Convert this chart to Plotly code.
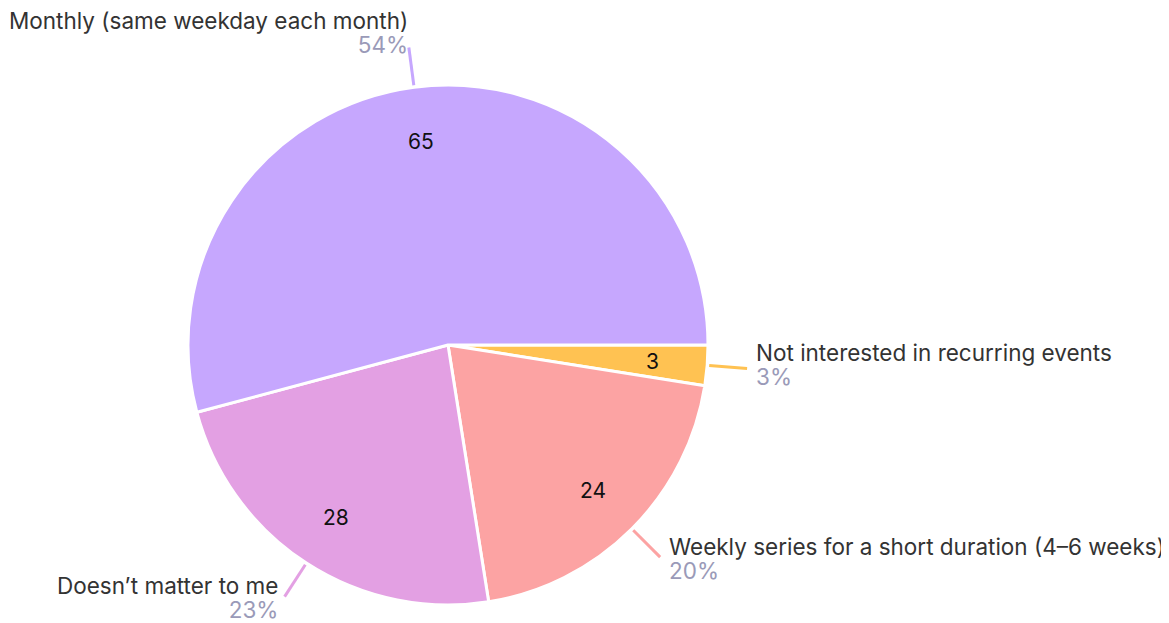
"""Pie chart of preferred recurring event schedules."""

import math
import plotly.graph_objects as go

W, H = 1169, 623

# listed clockwise, starting at 3 o'clock
labels = [
    'Not interested in recurring events',
    'Weekly series for a short duration (4–6 weeks)',
    'Doesn’t matter to me',
    'Monthly (same weekday each month)',
]
values = [3, 24, 28, 65]
percents = ['3%', '20%', '23%', '54%']
colors = ['#FFC252', '#FCA3A3', '#E3A0E3', '#C6A7FE']

FONT = 'Inter'
TEXT_COLOR = '#333333'
PCT_COLOR = '#9A9AB8'
LABEL_SIZE = 22.5

# pie geometry (px, figure coordinates; page adds an 8px body margin)
cx, cy, R = 440, 337, 260

fig = go.Figure(go.Pie(
    labels=labels,
    values=values,
    marker=dict(colors=colors, line=dict(color='white', width=3)),
    textinfo='none',
    sort=False,
    direction='clockwise',
    rotation=90,
    hoverinfo='skip',
    showlegend=False,
    domain=dict(x=[(cx - R) / W, (cx + R) / W],
                y=[1 - (cy + R) / H, 1 - (cy - R) / H]),
))


def to_paper(x, y):
    return x / W, 1 - y / H


# value labels inside, outside labels with leader lines
# (angles clockwise from 3 o'clock)
total = sum(values)
start = 0.0
shapes = []
annotations = []
for lab, val, pct, col in zip(labels, values, percents, colors):
    span = 360.0 * val / total
    mid = -math.radians(start + span / 2)
    start += span
    c, s = math.cos(mid), math.sin(mid)

    vx, vy = to_paper(cx + 0.79 * R * c, cy - 0.79 * R * s)
    annotations.append(dict(
        xref='paper', yref='paper', x=vx, y=vy,
        xanchor='center', yanchor='middle', showarrow=False,
        text=str(val), font=dict(family=FONT, size=21, color='#111111'),
    ))

    x0, y0 = cx + (R + 2) * c, cy - (R + 2) * s
    x1, y1 = cx + (R + 40) * c, cy - (R + 40) * s
    px0, py0 = to_paper(x0, y0)
    px1, py1 = to_paper(x1, y1)
    shapes.append(dict(type='line', xref='paper', yref='paper',
                       x0=px0, y0=py0, x1=px1, y1=py1,
                       line=dict(color=col, width=3)))
    right = c >= 0
    if right:
        tx = x1 + 8
    else:
        tx = x1 - (6 if s < 0 else 0)
    if s > 0.5:
        ty = y1 - 15
    elif abs(s) < 0.3:
        ty = y1 - 4
    else:
        ty = y1 + 1
    # small base size keeps the two lines ~24px apart, as in the original
    text = (f"<span style='font-size:{LABEL_SIZE}px'>{lab}</span><br>"
            f"<span style='font-size:{LABEL_SIZE}px;color:{PCT_COLOR}'>{pct}</span>")
    ax, ay = to_paper(tx, ty)
    annotations.append(dict(
        xref='paper', yref='paper', x=ax, y=ay,
        xanchor='left' if right else 'right', yanchor='middle',
        align='left' if right else 'right',
        showarrow=False, text=text, borderpad=0,
        font=dict(family=FONT, size=18.5, color=TEXT_COLOR),
    ))

fig.update_layout(
    width=W, height=H,
    margin=dict(l=0, r=0, t=0, b=0),
    paper_bgcolor='white',
    plot_bgcolor='white',
    shapes=shapes,
    annotations=annotations,
)

fig.write_html("out.html")
